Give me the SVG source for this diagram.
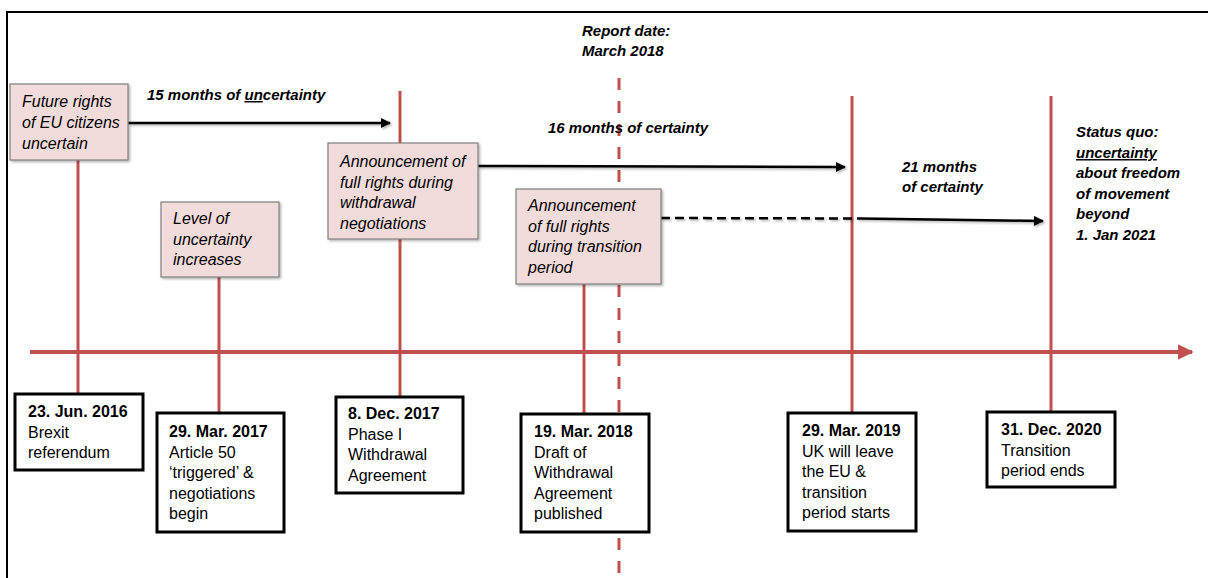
<svg xmlns="http://www.w3.org/2000/svg" width="1208" height="578" viewBox="0 0 1208 578">
<defs>
<style>
.red{stroke:#c0504d;stroke-width:3;fill:none}
.pink{fill:#f2dcdb;stroke:#7f7f7f;stroke-width:1.2;filter:url(#sh)}
.date{fill:#ffffff;stroke:#000;stroke-width:3}
.it{font-family:"Liberation Sans",Arial,sans-serif;font-style:italic;font-size:16px;fill:#000}
.bi{font-family:"Liberation Sans",Arial,sans-serif;font-style:italic;font-weight:bold;font-size:15px;fill:#000}
.tx{font-family:"Liberation Sans",Arial,sans-serif;font-size:16px;fill:#000}
.tb{font-weight:bold}
.arr{stroke:#000;stroke-width:2.5;fill:none}
</style>
<filter id="sh" x="-10%" y="-30%" width="130%" height="180%">
<feDropShadow dx="1.5" dy="1.5" stdDeviation="1" flood-color="#000" flood-opacity="0.3"/>
</filter>
<filter id="lsh" filterUnits="userSpaceOnUse" x="0" y="0" width="1208" height="578">
<feDropShadow dx="1.5" dy="1.5" stdDeviation="1" flood-color="#000" flood-opacity="0.3"/>
</filter>
<marker id="ah" viewBox="0 0 10 10" refX="9" refY="5" markerWidth="4.5" markerHeight="4" orient="auto" markerUnits="strokeWidth">
<path d="M0,0 L10,5 L0,10 z" fill="#000"/>
</marker>
<marker id="rah" viewBox="0 0 10 10" refX="9" refY="5" markerWidth="4" markerHeight="4" orient="auto" markerUnits="strokeWidth">
<path d="M0,0 L10,5 L0,10 z" fill="#c0504d"/>
</marker>
</defs>
<rect x="0" y="0" width="1208" height="578" fill="#ffffff"/>
<rect x="7" y="12" width="1220" height="600" fill="none" stroke="#000" stroke-width="2"/>

<g id="timeline">
<line class="red" x1="78" y1="160" x2="78" y2="394"/>
<line class="red" x1="219" y1="277" x2="219" y2="413"/>
<line class="red" x1="400" y1="91" x2="400" y2="397"/>
<line class="red" x1="584" y1="284" x2="584" y2="414"/>
<line class="red" x1="619" y1="78" x2="619" y2="578" stroke-dasharray="12 11"/>
<line class="red" x1="852" y1="96" x2="852" y2="413"/>
<line class="red" x1="1051" y1="96" x2="1051" y2="412"/>
<line x1="30" y1="352" x2="1192" y2="352" stroke="#c0504d" stroke-width="4" marker-end="url(#rah)"/>
</g>

<g id="connectors" filter="url(#lsh)">
<line class="arr" x1="128" y1="123" x2="390" y2="123" marker-end="url(#ah)"/>
<line class="arr" x1="478" y1="166" x2="845" y2="167" marker-end="url(#ah)"/>
<line class="arr" x1="661" y1="218" x2="860" y2="218.5" stroke-dasharray="9 5"/>
<line class="arr" x1="860" y1="218.5" x2="1043" y2="221" marker-end="url(#ah)"/>
</g>

<g id="labels">
<text class="bi" x="147" y="100">15 months of <tspan style="text-decoration:underline">un</tspan>certainty</text>
<text class="bi" x="582" y="36">Report date:</text>
<text class="bi" x="582" y="56">March 2018</text>
<text class="bi" x="548" y="133">16 months of certainty</text>
<text class="bi" x="902" y="172">21 months</text>
<text class="bi" x="902" y="192">of certainty</text>
<text class="bi" x="1076" y="137">Status quo:</text>
<text class="bi" x="1076" y="158"><tspan style="text-decoration:underline">uncertainty</tspan></text>
<text class="bi" x="1076" y="178">about freedom</text>
<text class="bi" x="1076" y="199">of movement</text>
<text class="bi" x="1076" y="219">beyond</text>
<text class="bi" x="1076" y="240">1. Jan 2021</text>
</g>

<g id="note-future-rights">
<rect class="pink" x="10" y="84" width="118" height="76"/>
<text class="it" x="22" y="107">Future rights</text>
<text class="it" x="22" y="128">of EU citizens</text>
<text class="it" x="22" y="149">uncertain</text>
</g>
<g id="note-level">
<rect class="pink" x="161" y="202" width="118" height="75"/>
<text class="it" x="173" y="224">Level of</text>
<text class="it" x="173" y="245">uncertainty</text>
<text class="it" x="173" y="265">increases</text>
</g>
<g id="note-withdrawal">
<rect class="pink" x="328" y="143" width="150" height="96"/>
<text class="it" x="340" y="167">Announcement of</text>
<text class="it" x="340" y="188">full rights during</text>
<text class="it" x="340" y="208">withdrawal</text>
<text class="it" x="340" y="229">negotiations</text>
</g>
<g id="note-transition">
<rect class="pink" x="516" y="189" width="145" height="95"/>
<text class="it" x="528" y="211">Announcement</text>
<text class="it" x="528" y="232">of full rights</text>
<text class="it" x="528" y="252">during transition</text>
<text class="it" x="528" y="273">period</text>
</g>

<g id="date-2016-06-23">
<rect class="date" x="15" y="394" width="128" height="76"/>
<text class="tx" x="28" y="417"><tspan class="tb">23. Jun. 2016</tspan><tspan x="28" dy="20.6">Brexit</tspan><tspan x="28" dy="20.6">referendum</tspan></text>
</g>
<g id="date-2017-03-29">
<rect class="date" x="157" y="413" width="127" height="119"/>
<text class="tx" x="169" y="437"><tspan class="tb">29. Mar. 2017</tspan><tspan x="169" dy="20.6">Article 50</tspan><tspan x="169" dy="20.6">‘triggered’ &amp;</tspan><tspan x="169" dy="20.6">negotiations</tspan><tspan x="169" dy="20.6">begin</tspan></text>
</g>
<g id="date-2017-12-08">
<rect class="date" x="336" y="397" width="127" height="96"/>
<text class="tx" x="348" y="419"><tspan class="tb">8. Dec. 2017</tspan><tspan x="348" dy="20.6">Phase I</tspan><tspan x="348" dy="20.6">Withdrawal</tspan><tspan x="348" dy="20.6">Agreement</tspan></text>
</g>
<g id="date-2018-03-19">
<rect class="date" x="521" y="414" width="128" height="118"/>
<text class="tx" x="534" y="437"><tspan class="tb">19. Mar. 2018</tspan><tspan x="534" dy="20.6">Draft of</tspan><tspan x="534" dy="20.6">Withdrawal</tspan><tspan x="534" dy="20.6">Agreement</tspan><tspan x="534" dy="20.6">published</tspan></text>
</g>
<g id="date-2019-03-29">
<rect class="date" x="788" y="413" width="128" height="118"/>
<text class="tx" x="802" y="436"><tspan class="tb">29. Mar. 2019</tspan><tspan x="802" dy="20.6">UK will leave</tspan><tspan x="802" dy="20.6">the EU &amp;</tspan><tspan x="802" dy="20.6">transition</tspan><tspan x="802" dy="20.6">period starts</tspan></text>
</g>
<g id="date-2020-12-31">
<rect class="date" x="987" y="412" width="128" height="75"/>
<text class="tx" x="1001" y="435"><tspan class="tb">31. Dec. 2020</tspan><tspan x="1001" dy="20.6">Transition</tspan><tspan x="1001" dy="20.6">period ends</tspan></text>
</g>
</svg>
